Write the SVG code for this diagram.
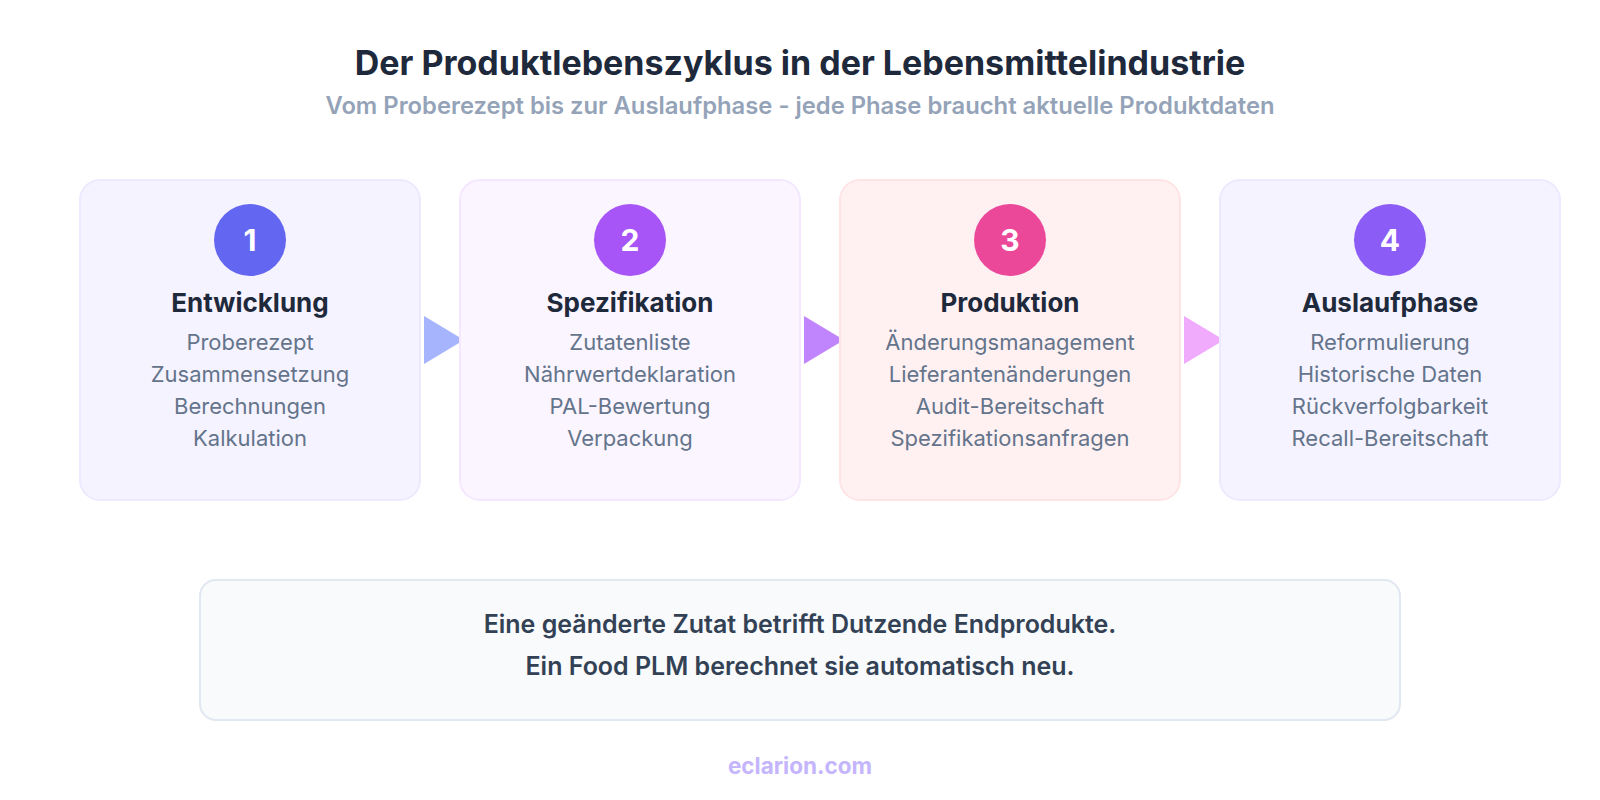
<svg xmlns="http://www.w3.org/2000/svg" width="1600" height="800" viewBox="0 0 1600 800">
<style>
  text { font-family: Inter, "Noto Sans", "Liberation Sans", sans-serif; text-anchor: middle; }
  .title { font-size: 34px; font-weight: 700; fill: #1e293b; }
  .sub { font-size: 23.8px; font-weight: 600; fill: #94a3b8; }
  .num { font-size: 30px; font-weight: 700; fill: #ffffff; }
  .ph { font-size: 26px; font-weight: 700; fill: #1e293b; }
  .it { font-size: 22px; font-weight: 400; fill: #64748b; }
  .note { font-size: 25px; font-weight: 600; fill: #334155; }
  .foot { font-size: 22.5px; font-weight: 700; fill: #c4b5fd; }
</style>
<rect width="1600" height="800" fill="#ffffff"/>
<text class="title" x="800" y="75">Der Produktlebenszyklus in der Lebensmittelindustrie</text>
<text class="sub" x="800" y="114">Vom Proberezept bis zur Auslaufphase - jede Phase braucht aktuelle Produktdaten</text>

<g id="connectors">
  <polygon points="424,316 464,340 424,364" fill="#a5b4fc"/>
  <polygon points="804,316 844,340 804,364" fill="#c084fc"/>
  <polygon points="1184,316 1224,340 1184,364" fill="#f0abfc"/>
</g>

<g id="phase1">
  <rect x="80" y="180" width="340" height="320" rx="20" fill="#f5f3ff" stroke="#ede9fe" stroke-width="2"/>
  <circle cx="250" cy="240" r="36" fill="#6366f1"/>
  <text class="num" x="250" y="251">1</text>
  <text class="ph" x="250" y="312">Entwicklung</text>
  <text class="it" x="250" y="350">Proberezept</text>
  <text class="it" x="250" y="382">Zusammensetzung</text>
  <text class="it" x="250" y="414">Berechnungen</text>
  <text class="it" x="250" y="446">Kalkulation</text>
</g>
<g id="phase2">
  <rect x="460" y="180" width="340" height="320" rx="20" fill="#faf5ff" stroke="#f3e8ff" stroke-width="2"/>
  <circle cx="630" cy="240" r="36" fill="#a855f7"/>
  <text class="num" x="630" y="251">2</text>
  <text class="ph" x="630" y="312">Spezifikation</text>
  <text class="it" x="630" y="350">Zutatenliste</text>
  <text class="it" x="630" y="382">Nährwertdeklaration</text>
  <text class="it" x="630" y="414">PAL-Bewertung</text>
  <text class="it" x="630" y="446">Verpackung</text>
</g>
<g id="phase3">
  <rect x="840" y="180" width="340" height="320" rx="20" fill="#fff1f2" stroke="#ffe4e6" stroke-width="2"/>
  <circle cx="1010" cy="240" r="36" fill="#ec4899"/>
  <text class="num" x="1010" y="251">3</text>
  <text class="ph" x="1010" y="312">Produktion</text>
  <text class="it" x="1010" y="350">Änderungsmanagement</text>
  <text class="it" x="1010" y="382">Lieferantenänderungen</text>
  <text class="it" x="1010" y="414">Audit-Bereitschaft</text>
  <text class="it" x="1010" y="446">Spezifikationsanfragen</text>
</g>
<g id="phase4">
  <rect x="1220" y="180" width="340" height="320" rx="20" fill="#f5f3ff" stroke="#ede9fe" stroke-width="2"/>
  <circle cx="1390" cy="240" r="36" fill="#8b5cf6"/>
  <text class="num" x="1390" y="251">4</text>
  <text class="ph" x="1390" y="312">Auslaufphase</text>
  <text class="it" x="1390" y="350">Reformulierung</text>
  <text class="it" x="1390" y="382">Historische Daten</text>
  <text class="it" x="1390" y="414">Rückverfolgbarkeit</text>
  <text class="it" x="1390" y="446">Recall-Bereitschaft</text>
</g>

<g id="note">
  <rect x="200" y="580" width="1200" height="140" rx="16" fill="#f8fafc" stroke="#e2e8f0" stroke-width="2"/>
  <text class="note" x="800" y="633">Eine geänderte Zutat betrifft Dutzende Endprodukte.</text>
  <text class="note" x="800" y="675">Ein Food PLM berechnet sie automatisch neu.</text>
</g>
<text class="foot" x="800" y="774">eclarion.com</text>
</svg>
